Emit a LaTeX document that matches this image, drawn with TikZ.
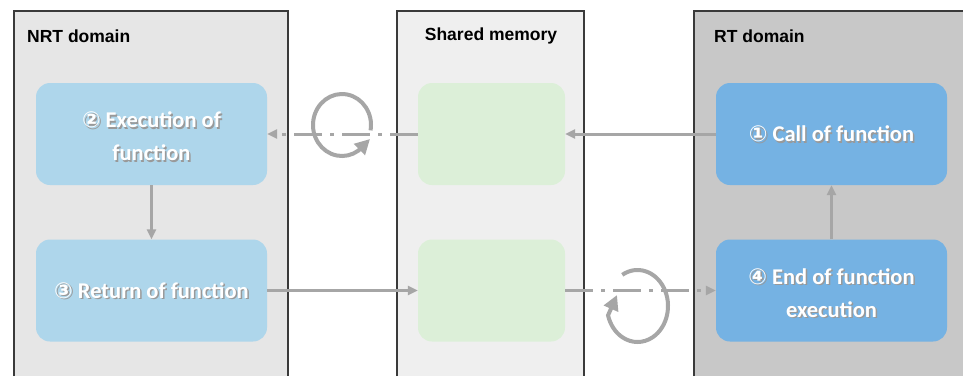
\documentclass[tikz,border=0pt]{standalone}
\usepackage{fontspec}
\setmainfont{Carlito}
\newfontfamily\circfont{DejaVu Sans}
\newfontfamily\titlefont{Liberation Sans}
\usetikzlibrary{arrows.meta}
\definecolor{nrtbg}{HTML}{E6E6E6}
\definecolor{shbg}{HTML}{EFEFEF}
\definecolor{rtbg}{HTML}{C8C8C8}
\definecolor{lblue}{HTML}{AED6EB}
\definecolor{dblue}{HTML}{75B2E3}
\definecolor{lgreen}{HTML}{DCEFD8}
\definecolor{agray}{HTML}{A6A6A6}
\definecolor{bordc}{HTML}{3A3A3A}
\newcommand{\cnum}[1]{{\circfont\fontsize{22}{26}\selectfont #1}}
\tikzset{
  panelline/.style={draw=bordc, line width=1.2pt},
  fbox/.style={rounded corners=14pt, minimum width=231pt, minimum height=102pt, inner sep=0pt, draw=none},
  gbox/.style={rounded corners=14pt, fill=lgreen, minimum width=147pt, minimum height=102pt, inner sep=0pt, draw=none},
  ttl/.style={font=\titlefont\bfseries\fontsize{17.5}{20}\selectfont, text=black, inner sep=0pt},
  wtxt/.style={text=white, align=center, inner sep=0pt, font=\bfseries\fontsize{22.5}{33}\selectfont},
  stxt/.style={text=black!40, align=center, inner sep=0pt, font=\bfseries\fontsize{22.5}{33}\selectfont},
  conn/.style={draw=agray, line width=3pt, -{Triangle[length=10pt,width=9pt]}},
  dconn/.style={conn, dash pattern=on 28pt off 8pt on 4pt off 8pt},
  loopar/.style={draw=agray, line width=4pt, -{Triangle[length=15pt,width=15pt]}}
}
\begin{document}
\begin{tikzpicture}[x=1pt,y=-1pt]
\useasboundingbox (0,0) rectangle (963,376);
\fill[white] (0,0) rectangle (963,376);
% panels
\fill[nrtbg] (14,11) rectangle (288,376);
\draw[panelline] (14,376) -- (14,11) -- (288,11) -- (288,376);
\fill[shbg] (397,11) rectangle (584,376);
\draw[panelline] (397,376) -- (397,11) -- (584,11) -- (584,376);
\fill[rtbg] (694,11) rectangle (963,376);
\draw[panelline] (694,376) -- (694,11) -- (963,11);
% titles
\node[ttl, anchor=west] (tnrt) at (27,36) {NRT domain};
\node[ttl] (tsh) at (491,36) {Shared memory};
\node[ttl, anchor=west] (trt) at (714,36) {RT domain};
% boxes
\node[fbox, fill=lblue] (exec) at (151.5,134) {};
\node[fbox, fill=lblue] (ret) at (151.5,290.5) {};
\node[gbox] (m1) at (491.5,134) {};
\node[gbox] (m2) at (491.5,290.5) {};
\node[fbox, fill=dblue] (call) at (831.5,134) {};
\node[fbox, fill=dblue] (endf) at (831.5,290.5) {};
% labels with shadow
\node[stxt] at ([shift={(1.5,4)}]exec.center) {\cnum{②} Execution of\\function};
\node[wtxt] (lexec) at ([shift={(0,2.5)}]exec.center) {\cnum{②} Execution of\\function};
\node[stxt] at ([shift={(1.5,1.5)}]ret.center) {\cnum{③} Return of function};
\node[wtxt] (lret) at (ret.center) {\cnum{③} Return of function};
\node[stxt] at ([shift={(1.5,1.5)}]call.center) {\cnum{①} Call of function};
\node[wtxt] (lcall) at (call.center) {\cnum{①} Call of function};
\node[stxt] at ([shift={(1.5,4)}]endf.center) {\cnum{④} End of function\\execution};
\node[wtxt] (lend) at ([shift={(0,2.5)}]endf.center) {\cnum{④} End of function\\execution};
% connectors
\draw[conn] (call.west) -- (m1.east);
\draw[dconn] (m1.west) -- (exec.east);
\draw[conn] (exec.south) -- (ret.north);
\draw[conn] (ret.east) -- (m2.west);
\draw[dconn] (m2.east) -- (endf.west);
\draw[conn] (endf.north) -- (call.south);
% loop arrows
\coordinate (c1) at (342,125);
\coordinate (c2) at (637.5,306);
\coordinate (t1) at (370,139);
\coordinate (t2) at (617,295);
\draw[loopar] (c1) ++(10:29 and 31) arc[start angle=10, end angle=-304, x radius=29, y radius=31] -- (t1);
\draw[loopar] (c2) ++(-120:30.5 and 36) arc[start angle=-120, end angle=165, x radius=30.5, y radius=36] -- (t2);
\end{tikzpicture}
\end{document}
